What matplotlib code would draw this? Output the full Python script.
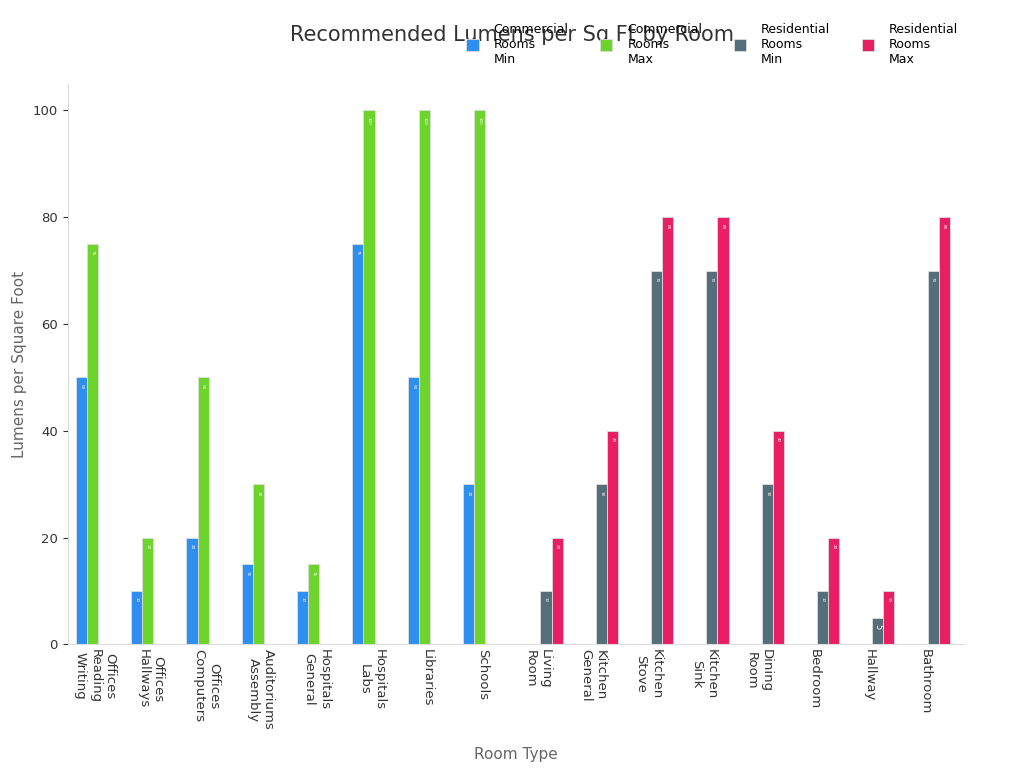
import matplotlib
matplotlib.use("Agg")
import matplotlib.pyplot as plt
import numpy as np

categories = ["Offices\nReading\nWriting", "Offices\nHallways", "Offices\nComputers", "Auditoriums\nAssembly",
              "Hospitals\nGeneral", "Hospitals\nLabs", "Libraries", "Schools", "Living\nRoom", "Kitchen\nGeneral",
              "Kitchen\nStove", "Kitchen\nSink", "Dining\nRoom", "Bedroom", "Hallway", "Bathroom"]
comm_min = [50, 10, 20, 15, 10, 75, 50, 30, 0, 0, 0, 0, 0, 0, 0, 0]
comm_max = [75, 20, 50, 30, 15, 100, 100, 100, 0, 0, 0, 0, 0, 0, 0, 0]
res_min = [0, 0, 0, 0, 0, 0, 0, 0, 10, 30, 70, 70, 30, 10, 5, 70]
res_max = [0, 0, 0, 0, 0, 0, 0, 0, 20, 40, 80, 80, 40, 20, 10, 80]
series = [("Commercial\nRooms\nMin", comm_min, "#2f8ff0"), ("Commercial\nRooms\nMax", comm_max, "#6cd42a"),
          ("Residential\nRooms\nMin", res_min, "#546e7a"), ("Residential\nRooms\nMax", res_max, "#e91e63")]

fig = plt.figure(figsize=(10.24, 7.68), dpi=100)
ax = fig.add_axes([0.066, 0.161, 0.875, 0.73])
x = np.arange(len(categories))
w = 0.2
offs = [-0.3, -0.1, 0.1, 0.3]
for (lab, vals, col), o in zip(series, offs):
    v = np.array(vals, dtype=float)
    m = v > 0
    ax.bar(x[m] + o, v[m], w, color=col, edgecolor="#dddddd", linewidth=0.6, label=lab)
    for xi, vi in zip(x[m] + o, v[m]):
        ax.text(xi, vi - 1.2, f"{int(vi)}", rotation=-90, ha="center", va="top",
                fontsize=3 if vi >= 10 else 6, color="white")
ax.set_xticks(x - 0.05)
ax.set_xticklabels(categories, rotation=-90, ha="center", va="top", fontsize=9.5, color="#333333")
ax.set_xlim(-0.55, len(categories) - 0.35)
ax.set_ylim(0, 105)
ax.set_yticks([0, 20, 40, 60, 80, 100])
ax.tick_params(axis="y", labelsize=9.5, colors="#333333")
ax.tick_params(axis="x", length=0)
for s in ["top", "right"]:
    ax.spines[s].set_visible(False)
for s in ["left", "bottom"]:
    ax.spines[s].set_color("#dddddd")
ax.set_xlabel("Room Type", fontsize=11, color="#666666", labelpad=12)
ax.set_ylabel("Lumens per Square Foot", fontsize=11, color="#666666")
fig.text(0.5, 0.955, "Recommended Lumens per Sq Ft by Room", ha="center", va="center", fontsize=15, color="#333333")
fig.legend(loc="upper right", bbox_to_anchor=(0.947, 0.985), ncol=4, frameon=False, fontsize=9,
           handlelength=1.0, handleheight=1.0, columnspacing=2.5, handletextpad=1.2)
fig.savefig("out.png", dpi=100)
